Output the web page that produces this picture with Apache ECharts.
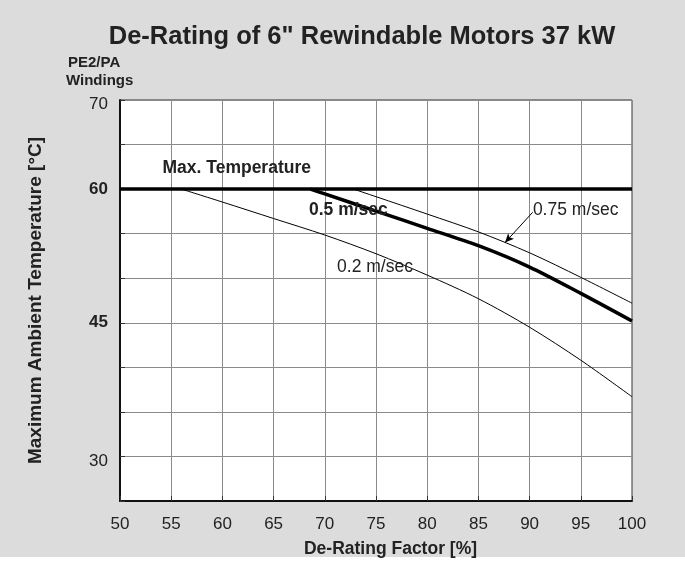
<!DOCTYPE html>
<html>
<head>
<meta charset="utf-8">
<script src="https://cdn.jsdelivr.net/npm/echarts@6/dist/echarts.min.js"></script>
<style>
  html, body { margin: 0; padding: 0; background: #fff; }
  #chart { width: 685px; height: 563px; }
</style>
</head>
<body>
<div id="chart"></div>
<script>
// values
const xTicks = [50, 55, 60, 65, 70, 75, 80, 85, 90, 95, 100];
const yLabelValues = [30, 45, 60, 70];
const yBoldValues = [45, 60];

const maxTemp = [[50, 60], [100, 60]];
const speed02 = [[56, 60], [60, 58.55], [65, 56.7], [70, 54.85], [75, 52.75], [80, 50.35], [85, 47.7], [90, 44.5], [95, 40.8], [100, 36.7]];
const speed05 = [[68.6, 60], [70, 59.46], [75, 57.53], [80, 55.6], [85, 53.65], [90, 51.25], [95, 48.3], [100, 45.2]];
const speed075 = [[72.8, 60], [75, 59.15], [80, 57.2], [85, 55.2], [90, 52.85], [95, 50.1], [100, 47.2]];

// text notes in data coordinates
const notes = [
  { text: 'Max. Temperature', x: 61.4, y: 62.3, bold: true },
  { text: '0.5 m/sec', x: 72.3, y: 57.6, bold: true },
  { text: '0.2 m/sec', x: 74.9, y: 51.2, bold: false },
  { text: '0.75 m/sec', x: 94.5, y: 57.6, bold: false }
];
const arrowFrom = [90.3, 57.4];
const arrowTo = [87.6, 54.0];

const FONT = '"Liberation Sans", Arial, sans-serif';
const TXT = '#222';

let myChart = echarts.init(document.getElementById('chart'));

var option = {
  backgroundColor: '#dcdcdc',
  animation: false,
  textStyle: { fontFamily: FONT },
  title: {
    text: 'De-Rating of 6" Rewindable Motors 37 kW',
    left: 357,
    top: 19,
    textAlign: 'center',
    textStyle: { fontSize: 25.5, fontWeight: 'bold', color: TXT, fontFamily: FONT }
  },
  grid: {
    left: 120,
    right: 53,
    top: 100,
    bottom: 60,
    show: true,
    backgroundColor: '#fff',
    borderColor: '#333',
    borderWidth: 1
  },
  xAxis: {
    type: 'value',
    min: 50,
    max: 100,
    interval: 5,
    name: 'De-Rating Factor [%]',
    nameLocation: 'middle',
    nameGap: 39,
    nameTextStyle: { fontSize: 17.5, fontWeight: 'bold', color: TXT, fontFamily: FONT, padding: [0, 0, 0, 29] },
    axisLine: { onZero: false, lineStyle: { color: '#111', width: 2 } },
    axisTick: { inside: true, length: 5, lineStyle: { color: '#333' } },
    splitLine: { show: true, lineStyle: { color: '#8a8a8a', width: 1 } },
    axisLabel: {
      margin: 15,
      fontSize: 17,
      color: TXT,
      fontFamily: FONT,
      formatter: function (v) { return xTicks.includes(v) ? String(v) : ''; }
    }
  },
  yAxis: {
    type: 'value',
    min: 25,
    max: 70,
    interval: 5,
    name: 'Maximum Ambient Temperature [°C]',
    nameLocation: 'middle',
    nameGap: 75,
    nameTextStyle: { fontSize: 19, fontWeight: 'bold', color: TXT, fontFamily: FONT },
    axisLine: { onZero: false, lineStyle: { color: '#111', width: 2 } },
    axisTick: { inside: true, length: 5, lineStyle: { color: '#333' } },
    splitLine: { show: true, lineStyle: { color: '#8a8a8a', width: 1 } },
    axisLabel: {
      margin: 12,
      fontSize: 17,
      color: TXT,
      fontFamily: FONT,
      formatter: function (v) {
        if (yBoldValues.includes(v)) return '{b|' + v + '}';
        return yLabelValues.includes(v) ? '{d|' + v + '}' : '';
      },
      rich: {
        b: { fontSize: 17, fontWeight: 'bold', color: TXT, fontFamily: FONT },
        d: { fontSize: 17, color: TXT, fontFamily: FONT, padding: [9, 0, 0, 0] }
      }
    }
  },
  series: [
    {
      name: 'Max. Temperature',
      type: 'line',
      data: maxTemp,
      symbol: 'none',
      lineStyle: { color: '#000', width: 3.5 },
      z: 5
    },
    {
      name: '0.2 m/sec',
      type: 'line',
      data: speed02,
      symbol: 'none',
      smooth: 0.3,
      lineStyle: { color: '#000', width: 1 }
    },
    {
      name: '0.5 m/sec',
      type: 'line',
      data: speed05,
      symbol: 'none',
      smooth: 0.3,
      lineStyle: { color: '#000', width: 3.5 }
    },
    {
      name: '0.75 m/sec',
      type: 'line',
      data: speed075,
      symbol: 'none',
      smooth: 0.3,
      lineStyle: { color: '#000', width: 1 },
      markLine: {
        silent: true,
        symbol: ['none', 'arrow'],
        symbolSize: [6, 9],
        label: { show: false },
        lineStyle: { color: '#000', width: 1, type: 'solid' },
        data: [[{ coord: arrowFrom }, { coord: arrowTo }]]
      }
    }
  ],
  graphic: [
    {
      type: 'rect',
      shape: { x: 0, y: 557, width: 685, height: 6 },
      style: { fill: '#fff' },
      silent: true
    },
    {
      type: 'text',
      left: 68,
      top: 55,
      style: { text: 'PE2/PA', font: 'bold 15px ' + FONT, fill: TXT }
    },
    {
      type: 'text',
      left: 66,
      top: 73,
      style: { text: 'Windings', font: 'bold 15px ' + FONT, fill: TXT }
    }
  ]
};

myChart.setOption(option);

// place the notes from data coordinates
let noteGraphics = notes.map(function (n, i) {
  let p = myChart.convertToPixel({ gridIndex: 0 }, [n.x, n.y]);
  return {
    type: 'text',
    id: 'note' + i,
    x: p[0],
    y: p[1],
    z: 10,
    style: {
      text: n.text,
      font: (n.bold ? 'bold ' : '') + '17.5px ' + FONT,
      fill: TXT,
      align: 'center',
      verticalAlign: 'middle'
    }
  };
});
myChart.setOption({ graphic: option.graphic.concat(noteGraphics) });
</script>
</body>
</html>
